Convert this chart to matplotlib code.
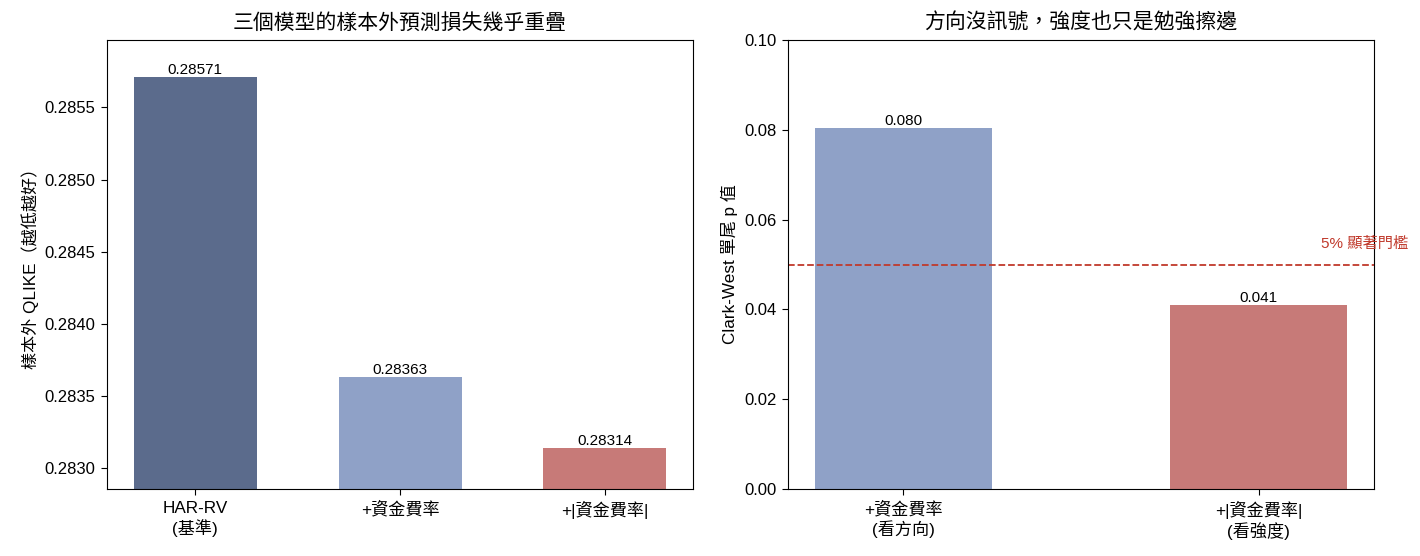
import matplotlib
matplotlib.use("Agg")
import matplotlib.pyplot as plt

plt.rcParams['font.family'] = ['Liberation Sans', 'Noto Sans CJK TC', 'DejaVu Sans']
plt.rcParams['xtick.major.size'] = 4.2
plt.rcParams['ytick.major.size'] = 4.2
plt.rcParams['xtick.major.pad'] = 4.2
plt.rcParams['ytick.major.pad'] = 4.2

models = ["HAR-RV\n(基準)", "+資金費率", "+|資金費率|"]
qlike = [0.28571, 0.28363, 0.28314]
cw_labels = ["+資金費率\n(看方向)", "+|資金費率|\n(看強度)"]
cw_p = [0.0803, 0.0409]

fig, (ax1, ax2) = plt.subplots(1, 2, figsize=(14.2, 5.56), dpi=100)
fig.subplots_adjust(left=0.0754, right=0.9676, top=0.928, bottom=0.1205, wspace=0.162)

c1 = ["#5b6b8c", "#8fa1c7", "#c77a78"]
bars = ax1.bar(range(len(models)), qlike, width=0.6, color=c1)
ax1.set_xticks(range(len(models)))
ax1.set_xticklabels(models, fontsize=12.3)
ax1.set_ylim(min(qlike) * 0.999, max(qlike) + 0.1 * (max(qlike) - min(qlike)))
ax1.bar_label(bars, labels=[f"{v:.5f}" for v in qlike], fontsize=11, padding=0)
ax1.set_ylabel("樣本外 QLIKE（越低越好）", fontsize=12.3)
ax1.set_title("三個模型的樣本外預測損失幾乎重疊", fontsize=15, pad=8)
ax1.tick_params(axis='y', labelsize=12)

bars2 = ax2.bar(range(len(cw_labels)), cw_p, width=0.5, color=["#8fa1c7", "#c77a78"])
ax2.set_xticks(range(len(cw_labels)))
ax2.set_xticklabels(cw_labels, fontsize=12.3)
ax2.set_ylim(0, 0.1)
ax2.bar_label(bars2, labels=[f"{v:.3f}" for v in cw_p], fontsize=11, padding=0)
ax2.axhline(0.05, color="#c0392b", linestyle="--", linewidth=1.3)
ax2.text(1.3, 0.053, "5% 顯著門檻", color="#c0392b", fontsize=11, ha="center", va="bottom")
ax2.set_ylabel("Clark-West 單尾 p 值", fontsize=12.3)
ax2.set_title("方向沒訊號，強度也只是勉強擦邊", fontsize=15, pad=8)
ax2.tick_params(axis='y', labelsize=12)

fig.savefig("out.png", dpi=100)
